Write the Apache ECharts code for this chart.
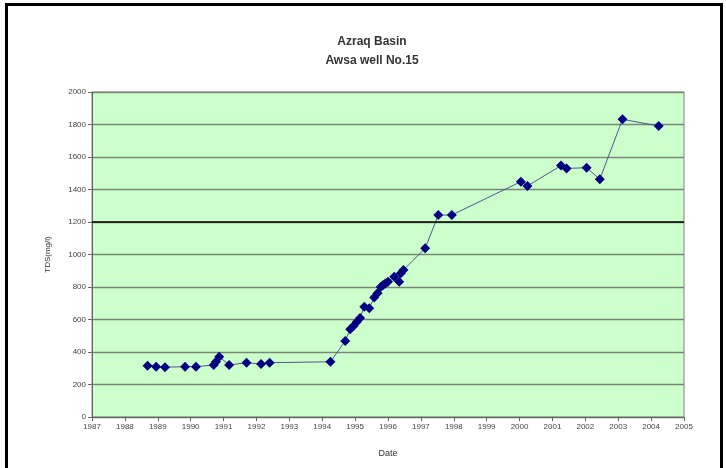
<!DOCTYPE html>
<html>
<head>
<meta charset="utf-8">
<script src="https://cdn.jsdelivr.net/npm/echarts@6/dist/echarts.min.js"></script>
<style>
html,body{margin:0;padding:0;background:#fff;}
#c{width:726px;height:468px;}
</style>
</head>
<body>
<div id="c"></div>
<script>
var titleLines = ["Azraq Basin", "Awsa well No.15"];
var yAxisName = "TDS(mg/l)";
var xAxisName = "Date";
var dates = [1988.69,1988.95,1989.22,1989.83,1990.16,1990.70,1990.77,1990.87,1991.17,1991.70,1992.14,1992.40,1994.25,1994.70,1994.85,1994.95,1995.05,1995.15,1995.28,1995.43,1995.58,1995.68,1995.78,1995.85,1995.92,1996.00,1996.19,1996.34,1996.39,1996.47,1997.13,1997.53,1997.94,2000.04,2000.24,2001.26,2001.43,2002.04,2002.44,2003.13,2004.23];
var tds = [316,310,306,310,310,320,340,371,320,334,326,334,340,468,540,560,585,610,679,669,735,761,800,812,822,833,863,833,884,905,1038,1243,1243,1448,1422,1547,1530,1534,1463,1832,1791];
var xMin = 1987, xMax = 2005, xStep = 1;
var yMin = 0, yMax = 2000, yStep = 200;
var refLine = 1200;

var points = dates.map(function(d, i){ return [d, tds[i]]; });
var font = "'Liberation Sans', Arial, sans-serif";
var chart = echarts.init(document.getElementById('c'), null, {renderer:'canvas'});
chart.setOption({
  backgroundColor: '#ffffff',
  animation: false,
  title: {
    text: titleLines[0] + "\n" + titleLines[1],
    left: 367, top: 27, textAlign: 'center',
    textStyle: {fontFamily: font, fontSize: 12, fontWeight: 'bold', color: '#333', lineHeight: 19}
  },
  graphic: [
    {type:'rect', shape:{x:5, y:3, width:3, height:465}, style:{fill:'#000'}},
    {type:'rect', shape:{x:5, y:3, width:718, height:3}, style:{fill:'#000'}},
    {type:'rect', shape:{x:720, y:3, width:3, height:465}, style:{fill:'#000'}}
  ],
  grid: {left: 92, right: 42, top: 92, bottom: 51, show: true, backgroundColor: '#ccffcc', borderColor: '#808080', borderWidth: 1},
  xAxis: {
    type: 'value', min: xMin, max: xMax, interval: xStep,
    name: xAxisName, nameLocation: 'middle', nameGap: 32,
    nameTextStyle: {fontFamily: font, fontSize: 9, color: '#333'},
    axisLine: {show: true, lineStyle: {color: '#666'}},
    axisTick: {show: true, length: 4, lineStyle: {color: '#666'}},
    axisLabel: {fontFamily: font, fontSize: 8, color: '#444', margin: 6, formatter: function(v){ return String(Math.round(v)); }},
    splitLine: {show: false}
  },
  yAxis: {
    type: 'value', min: yMin, max: yMax, interval: yStep,
    name: yAxisName, nameLocation: 'middle', nameGap: 40, nameRotate: 90,
    nameTextStyle: {fontFamily: font, fontSize: 8, color: '#333'},
    axisLine: {show: true, lineStyle: {color: '#666'}},
    axisTick: {show: true, length: 4, lineStyle: {color: '#666'}},
    axisLabel: {fontFamily: font, fontSize: 8, color: '#444', margin: 6, formatter: function(v){ return String(Math.round(v)); }},
    splitLine: {show: true, lineStyle: {color: '#778877', width: 1.3}}
  },
  series: [{
    type: 'line',
    data: points,
    symbol: 'diamond',
    symbolSize: 10,
    itemStyle: {color: '#000080'},
    lineStyle: {color: '#4a5a8a', width: 1},
    markLine: {
      silent: true, symbol: 'none', label: {show: false},
      lineStyle: {color: '#000', width: 1.5, type: 'solid'},
      data: [{yAxis: refLine}]
    }
  }]
});
</script>
</body>
</html>
